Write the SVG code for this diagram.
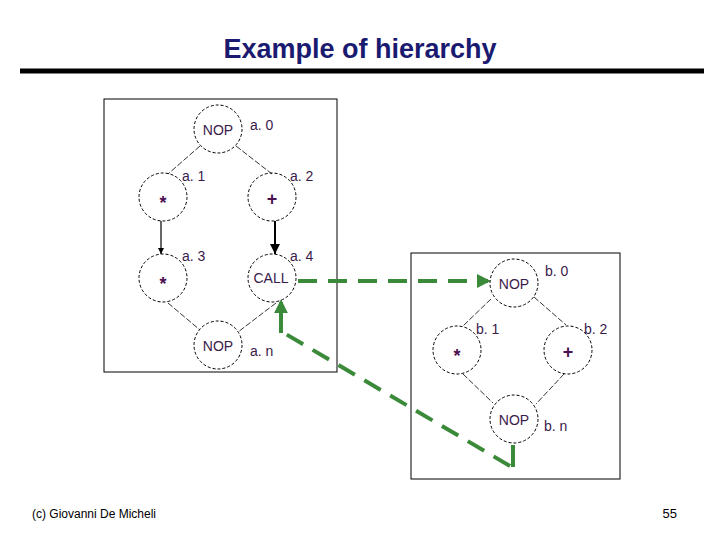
<svg xmlns="http://www.w3.org/2000/svg" width="720" height="540" viewBox="0 0 720 540">
<style>
text{font-family:"Liberation Sans",Arial,sans-serif}
.c{fill:none;stroke:#000;stroke-width:1;stroke-dasharray:3,2}
.t{font-size:14px;fill:#3a1a4a;text-anchor:middle}
.l{font-size:14px;fill:#3a1a4a}
.op{font-size:18px;fill:#4a1050;text-anchor:middle;font-weight:bold}
.e{stroke:#000;stroke-width:0.8;stroke-dasharray:6,2}
.g{fill:none;stroke:#3a8a3a;stroke-width:4}
.box{fill:none;stroke:#000;stroke-width:1}
</style>
<defs>
<marker id="ab" viewBox="0 0 10 10" refX="10" refY="5" markerWidth="5" markerHeight="5" orient="auto"><path d="M0,0L10,5L0,10z" fill="#000"/></marker>
<marker id="ag" viewBox="0 0 10 10" refX="8" refY="5" markerWidth="3.5" markerHeight="3.5" orient="auto"><path d="M0,0L10,5L0,10z" fill="#3a8a3a"/></marker>
</defs>
<rect width="720" height="540" fill="#fff"/>
<text x="360" y="58" font-size="27" font-weight="bold" fill="#1a1a70" text-anchor="middle">Example of hierarchy</text>
<line x1="20" y1="71" x2="704" y2="71" stroke="#000" stroke-width="5"/>
<rect class="box" x="104" y="99" width="233" height="273"/>
<rect class="box" x="411" y="253" width="209" height="226"/>
<g id="connectors">
<line class="e" x1="200" y1="146" x2="168" y2="174"/>
<line class="e" x1="236" y1="146" x2="272" y2="174"/>
<line class="e" x1="168" y1="303" x2="200" y2="330"/>
<line class="e" x1="276" y1="303" x2="238" y2="332"/>
<line x1="161" y1="221" x2="161" y2="254" stroke="#000" stroke-width="1.2" marker-end="url(#ab)"/>
<line x1="275" y1="221" x2="275" y2="254" stroke="#000" stroke-width="2" marker-end="url(#ab)"/>
<line class="e" x1="491" y1="299" x2="463" y2="326"/>
<line class="e" x1="534" y1="297" x2="566" y2="325"/>
<line class="e" x1="463" y1="374" x2="493" y2="403"/>
<line class="e" x1="564" y1="374" x2="536" y2="404"/>
<line class="g" x1="298" y1="281" x2="488" y2="281" stroke-dasharray="19,11" marker-end="url(#ag)"/>
<polyline class="g" points="513,445 513,467"/>
<line class="g" x1="510" y1="466" x2="284" y2="333" stroke-dasharray="19,11"/>
<polyline class="g" points="281,333 281,302" marker-end="url(#ag)"/>
</g>
<g id="a0"><circle class="c" cx="218" cy="129" r="24"/><text class="t" x="218" y="135">NOP</text><text class="l" x="250" y="130">a. 0</text></g>
<g id="a1"><circle class="c" cx="163" cy="197" r="24"/><text class="op" x="163" y="209">*</text><text class="l" x="182" y="181">a. 1</text></g>
<g id="a2"><circle class="c" cx="272" cy="197" r="24"/><text class="op" x="272" y="205">+</text><text class="l" x="290" y="181">a. 2</text></g>
<g id="a3"><circle class="c" cx="163" cy="278" r="24"/><text class="op" x="163" y="290">*</text><text class="l" x="182" y="261">a. 3</text></g>
<g id="a4"><circle class="c" cx="272" cy="278" r="24"/><text class="t" x="271" y="283">CALL</text><text class="l" x="290" y="261">a. 4</text></g>
<g id="an"><circle class="c" cx="218" cy="345" r="24"/><text class="t" x="218" y="351">NOP</text><text class="l" x="250" y="356">a. n</text></g>
<g id="b0"><circle class="c" cx="514" cy="283" r="24"/><text class="t" x="514" y="289">NOP</text><text class="l" x="545" y="276">b. 0</text></g>
<g id="b1"><circle class="c" cx="457" cy="350" r="24"/><text class="op" x="457" y="362">*</text><text class="l" x="476" y="334">b. 1</text></g>
<g id="b2"><circle class="c" cx="568" cy="350" r="24"/><text class="op" x="568" y="358">+</text><text class="l" x="584" y="334">b. 2</text></g>
<g id="bn"><circle class="c" cx="514" cy="419" r="24"/><text class="t" x="514" y="425">NOP</text><text class="l" x="544" y="431">b. n</text></g>
<text x="32" y="518" font-size="12" fill="#000">(c)  Giovanni De Micheli</text>
<text x="677" y="518" font-size="13" fill="#000" text-anchor="end">55</text>
</svg>
